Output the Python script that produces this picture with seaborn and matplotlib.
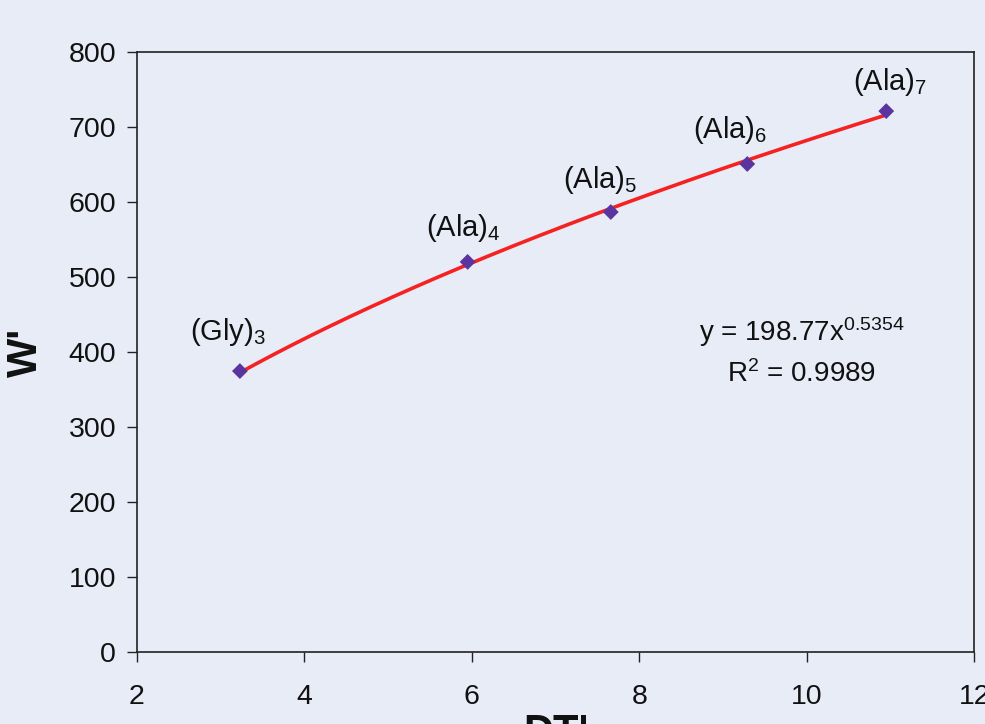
import numpy as np
import pandas as pd
import matplotlib
matplotlib.use("Agg")
import matplotlib.pyplot as plt
import seaborn as sns

# Peptide data: drift time vs. W'
peptides = ["Gly", "Ala", "Ala", "Ala", "Ala"]
residues = [3, 4, 5, 6, 7]
dt_values = [3.23, 5.95, 7.66, 9.29, 10.95]
w_values = [374.5, 520.0, 586.5, 650.5, 721.0]

# Power-law trendline coefficients
fit_a = 198.77
fit_b = 0.5354
fit_r2 = 0.9989

x_ticks = [2, 4, 6, 8, 10, 12]
y_ticks = [0, 100, 200, 300, 400, 500, 600, 700, 800]

bg = "#E8ECF7"

sns.set_theme(style="white")
plt.rcParams["font.family"] = ["Liberation Sans", "DejaVu Sans"]
plt.rcParams["mathtext.fontset"] = "custom"
plt.rcParams["mathtext.rm"] = "Liberation Sans"
plt.rcParams["mathtext.it"] = "Liberation Sans"

fig = plt.figure(figsize=(9.85, 7.24), dpi=100, facecolor=bg)
ax = fig.add_axes([0.139, 0.0994, 0.850, 0.829])
ax.set_facecolor(bg)

df = pd.DataFrame({"DT": dt_values, "W": w_values})
fit_x = np.linspace(min(dt_values), max(dt_values), 200)
fit_df = pd.DataFrame({"DT": fit_x, "W": fit_a * fit_x ** fit_b})

sns.lineplot(data=fit_df, x="DT", y="W", ax=ax, color="#F52222", linewidth=2.6, zorder=2)
sns.scatterplot(data=df, x="DT", y="W", ax=ax, marker="D", s=65, color="#5A35A0",
                edgecolor="none", zorder=3)

# Peptide labels with subscripted residue counts
offsets = [(-12, 39), (-4, 34), (-11, 32), (-17, 34), (4, 29)]
for name, n, x, y, off in zip(peptides, residues, dt_values, w_values, offsets):
    ax.annotate(rf"$\mathregular{{({name})_{{{n}}}}}$", xy=(x, y), xytext=off,
                textcoords="offset pixels", ha="center", va="center",
                fontsize=21, color="#111111")

ax.text(9.94, 426, rf"y = {fit_a}x$^{{{fit_b}}}$", ha="center", va="center",
        fontsize=20, color="#111111")
ax.text(9.94, 370, rf"R$^{{2}}$ = {fit_r2}", ha="center", va="center",
        fontsize=20, color="#111111")

ax.set_xlim(2, 12)
ax.set_ylim(0, 800)
ax.set_xticks(x_ticks)
ax.set_yticks(y_ticks)
ax.tick_params(axis="both", which="major", direction="out", length=7, width=1,
               color="#222222", labelsize=20.5, labelcolor="#111111", pad=8,
               bottom=True, left=True)
ax.tick_params(axis="x", pad=16)
for side in ["left", "right", "top", "bottom"]:
    ax.spines[side].set_visible(True)
    ax.spines[side].set_color("#222222")
    ax.spines[side].set_linewidth(1.2)

ax.set_ylabel("W'", fontsize=30, fontweight="bold", color="#111111", labelpad=16)
ax.set_xlabel("DT'", fontsize=30, fontweight="bold", color="#111111", labelpad=2)

fig.savefig("out.png", dpi=100, facecolor=bg)
